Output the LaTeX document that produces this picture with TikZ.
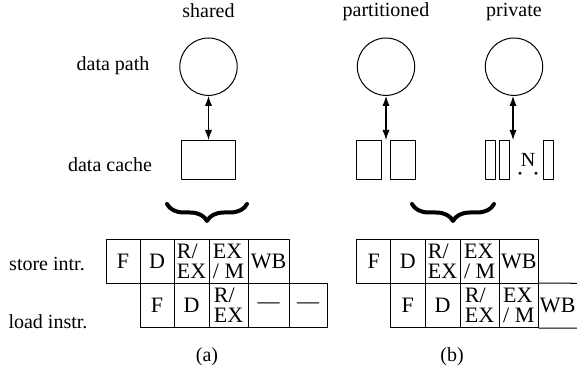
\documentclass[tikz,border=0pt]{standalone}
\usepackage{fontspec}
\setmainfont{Liberation Serif}
\usetikzlibrary{arrows.meta,decorations.pathreplacing}
\tikzset{
  lbl/.style={font=\fontsize{10}{12}\selectfont, inner sep=0pt},
  dpath/.style={draw, circle, minimum size=28.7pt, inner sep=0pt, line width=0.5pt},
  dcache/.style={draw, rectangle, inner sep=0pt, line width=0.5pt, minimum height=19.5pt},
  cell/.style={draw, rectangle, inner sep=0pt, line width=0.5pt, minimum height=22pt,
    align=left, font=\fontsize{11}{10}\selectfont},
  link/.style={{Latex[length=5pt,width=3.6pt]}-{Latex[length=5pt,width=3.6pt]}, line width=0.6pt},
  grp/.style={decorate, decoration={brace, amplitude=8.5pt}, line width=2pt},
  dot/.style={circle, fill, inner sep=0pt, minimum size=1.6pt}
}
\begin{document}
\begin{tikzpicture}[x=0.5pt, y=-0.5pt, line cap=round, line join=round]
    \useasboundingbox (0,0) rectangle (577,373);
    % headings and row names
    \node[lbl] (shr) at (208.5,11) {shared};
    \node[lbl] (part) at (386,11.7) {partitioned};
    \node[lbl] (priv) at (514,12) {private};
    \node[lbl] (dpl) at (113,65.7) {data path};
    \node[lbl] (dcl) at (110,164.2) {data cache};
    % data paths
    \node[dpath] (dpA) at (208.5,66.7) {};
    \node[dpath] (dpB) at (386,66.7) {};
    \node[dpath] (dpC) at (514,66.7) {};
    % caches
    \node[dcache, minimum width=27pt] (dcA) at (208.5,160) {};
    \node[dcache, minimum width=12.2pt] (dcB1) at (368.8,160) {};
    \node[dcache, minimum width=12.5pt] (dcB2) at (403.2,160) {};
    \foreach \n/\x in {1/490,2/504.3,3/548.7}
        \node[dcache, minimum width=5pt] (dcC\n) at (\x,160.5) {};
    \node[lbl] (nN) at (528,160) {N};
    \node[dot] (dt1) at (520,173.3) {};
    \node[dot] (dt2) at (536,173.3) {};
    \coordinate (tB) at (386,140);
    \coordinate (tC) at (513,140);
    \draw[link] (dpA) -- (dcA);
    \draw[link] (dpB) -- (tB);
    \draw[link] (dpC.south -| tC) -- (tC);
    % braces
    \draw[grp] (247,204) -- (167,204);
    \draw[grp] (494,204) -- (412,204);
    % pipelines (a)
    \foreach \n/\xa/\xb/\t in {1/106/140/F,2/140/174/D,3/174/209/{R/\\EX},4/209/248/{EX\\/ M},5/248/289/WB}
        \node[cell, minimum width={(\xb-\xa)*0.5pt}] (sA\n) at ({(\xa+\xb)/2},261.3) {\t};
    \foreach \n/\xa/\xb/\t in {1/140/174/F,2/174/209/D,3/209/248/{R/\\EX},4/248/289/---,5/289/327/---}
        \node[cell, minimum width={(\xb-\xa)*0.5pt}] (lA\n) at ({(\xa+\xb)/2},305.5) {\t};
    % pipelines (b)
    \foreach \n/\xa/\xb/\t in {1/356.7/390.7/F,2/390.7/425/D,3/425/460/{R/\\EX},4/460/499.3/{EX\\/ M},5/499.3/538.3/WB}
        \node[cell, minimum width={(\xb-\xa)*0.5pt}] (sB\n) at ({(\xa+\xb)/2},261.3) {\t};
    \foreach \n/\xa/\xb/\t in {1/390.7/425/F,2/425/460/D,3/460/499.3/{R/\\EX},4/499.3/538.3/{EX\\/ M}}
        \node[cell, minimum width={(\xb-\xa)*0.5pt}] (lB\n) at ({(\xa+\xb)/2},305.5) {\t};
    \node[lbl, font=\fontsize{11}{10}\selectfont] (lB5) at (557.7,305.5) {WB};
    \coordinate (eB) at (577,283.3);
    \draw[line width=0.5pt] (lB4.north east) -- (eB) (lB4.south east) -- (eB |- lB4.south);
    \node[lbl] (stl) at (47,264) {store intr.};
    \node[lbl] (ldl) at (48,321.7) {load instr.};
    \node[lbl] (capA) at (207,356.7) {(a)};
    \node[lbl] (capB) at (452,356.7) {(b)};
\end{tikzpicture}
\end{document}
